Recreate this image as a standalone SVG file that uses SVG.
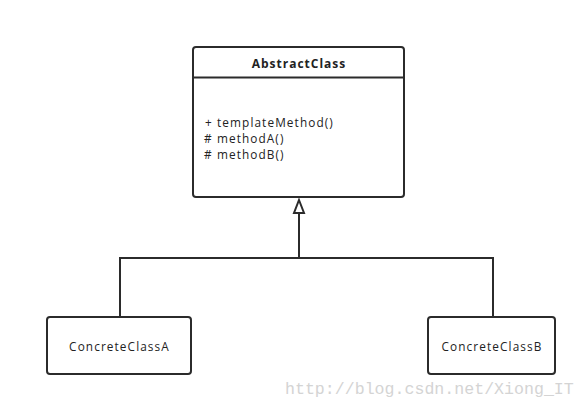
<svg xmlns="http://www.w3.org/2000/svg" width="587" height="407" viewBox="0 0 587 407">
<defs>
<style>
.box{fill:#fff;stroke:#2b2b2b;stroke-width:2}
.ln{fill:none;stroke:#2b2b2b;stroke-width:2}
.t{font-family:"Open Sans","Noto Sans",sans-serif;font-size:11.8px;letter-spacing:1.1px;fill:#222}
.b{font-weight:bold;font-size:12px;letter-spacing:1px}
.wm{font-family:"Liberation Mono","DejaVu Sans Mono",monospace;font-size:16.6px;fill:#d4d4d4}
</style>
</defs>
<rect width="587" height="407" fill="#fff"/>
<g id="connectors">
<polyline class="ln" points="120,317 120,258 493,258 493,317"/>
<line class="ln" x1="299" y1="258" x2="299" y2="200"/>
<path d="M299,200 L304,213 L294,213 Z" fill="#fff" stroke="#2b2b2b" stroke-width="2" stroke-linejoin="miter"/>
</g>
<g id="AbstractClass">
<rect class="box" x="193" y="47" width="211" height="150" rx="3"/>
<line class="ln" x1="193" y1="77.5" x2="404" y2="77.5"/>
<text class="t b" x="299" y="68" text-anchor="middle">AbstractClass</text>
<text class="t" x="205" y="127">+ templateMethod()</text>
<text class="t" x="204" y="143"># methodA()</text>
<text class="t" x="204" y="159"># methodB()</text>
</g>
<g id="ConcreteClassA">
<rect class="box" x="47" y="317" width="144" height="57" rx="3"/>
<text class="t" x="119.5" y="351" text-anchor="middle">ConcreteClassA</text>
</g>
<g id="ConcreteClassB">
<rect class="box" x="428" y="317" width="127" height="57" rx="3"/>
<text class="t" x="492" y="351" text-anchor="middle">ConcreteClassB</text>
</g>
<text class="wm" x="285" y="394">http://blog.csdn.net/Xiong_IT</text>
</svg>
